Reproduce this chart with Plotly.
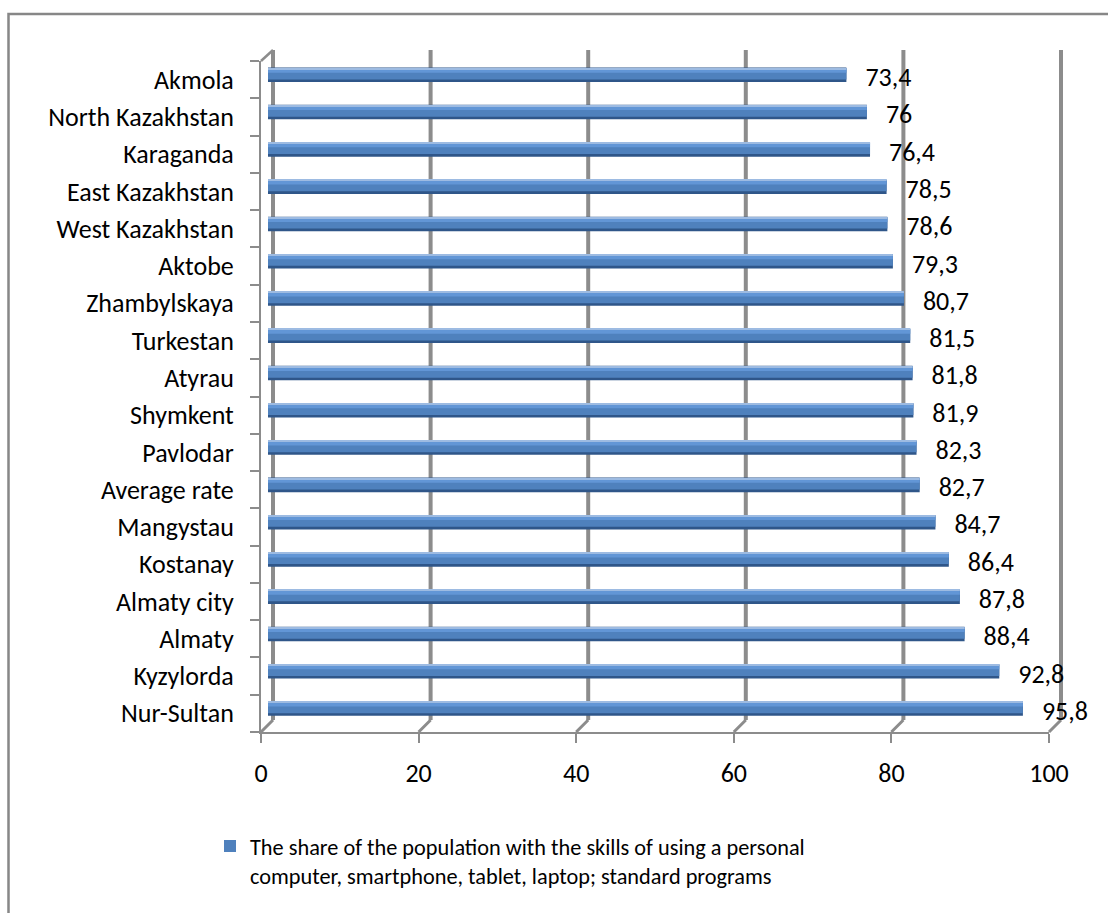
import plotly.graph_objects as go

# ---------------- data ----------------
regions = ["Nur-Sultan", "Kyzylorda", "Almaty", "Almaty city", "Kostanay", "Mangystau",
           "Average rate", "Pavlodar", "Shymkent", "Atyrau", "Turkestan", "Zhambylskaya",
           "Aktobe", "West Kazakhstan", "East Kazakhstan", "Karaganda", "North Kazakhstan",
           "Akmola"]
values = [95.8, 92.8, 88.4, 87.8, 86.4, 84.7, 82.7, 82.3, 81.9, 81.8, 81.5, 80.7,
          79.3, 78.6, 78.5, 76.4, 76, 73.4]
x_ticks = [0, 20, 40, 60, 80, 100]
series_name = ("The share of the population with the skills of using a personal<br>"
               "computer, smartphone, tablet, laptop; standard programs")
value_labels = [f"{v:g}".replace(".", ",") for v in values]

# ---------------- layout helpers ----------------
W, H = 1108, 913
def fx(p): return p / W
def fy(p): return 1 - p / H

FRONT = (261, 1049, 61, 732)   # x0, x1, ytop, ybottom (pixels)
BACK = (273, 1061, 50, 720)
BARS = (268, 1056, 56, 727)
LABELS = (287, 1075)           # value-label axis (bars shifted right)

FONT = "Carlito, Lato, sans-serif"
FS = 26
FS_LEG = 22.3
GRID = "#8c8c8c"
n = len(regions)

def xpos(box, v):
    return box[0] + (box[1] - box[0]) * v / 100.0

fig = go.Figure()

common = dict(x=values, y=regions, orientation="h", hoverinfo="skip",
              xaxis="x", yaxis="y")
fig.add_trace(go.Bar(**common, width=0.39, offset=-0.20,
                     marker=dict(color="#2F5689", line=dict(width=0)), showlegend=False))
fig.add_trace(go.Bar(**common, width=0.30, offset=-0.13, name=series_name,
                     marker=dict(color="#4F81BD", line=dict(width=0)), showlegend=True))
fig.add_trace(go.Bar(**common, width=0.12, offset=0.05,
                     marker=dict(color="#6296D6", line=dict(width=0)), showlegend=False))
fig.add_trace(go.Bar(**common, width=0.03, offset=0.15,
                     marker=dict(color="#9DBBE2", line=dict(width=0)), showlegend=False))

# value labels
fig.add_trace(go.Scatter(x=values, y=regions, mode="text", text=value_labels,
                         textposition="middle right", xaxis="x4", yaxis="y2",
                         textfont=dict(family=FONT, size=FS, color="black"),
                         cliponaxis=False, showlegend=False, hoverinfo="skip"))
# front axes carrier
fig.add_trace(go.Scatter(x=values, y=regions, mode="markers", marker=dict(opacity=0),
                         xaxis="x2", yaxis="y2", showlegend=False, hoverinfo="skip"))

shapes = []
# outer border (left & top)
shapes.append(dict(type="path", xref="paper", yref="paper",
                   path=f"M {fx(8.5)},{fy(913)} L {fx(8.5)},{fy(14)} L {fx(1108)},{fy(14)}",
                   line=dict(color="#878787", width=2.5), layer="below"))
# back wall vertical gridlines and floor connectors
for v in x_ticks:
    xb = xpos(BACK, v)
    xf = xpos(FRONT, v)
    shapes.append(dict(type="line", xref="paper", yref="paper",
                       x0=fx(xb), x1=fx(xb), y0=fy(BACK[3]), y1=fy(BACK[2]),
                       line=dict(color=GRID, width=4), layer="below"))
    shapes.append(dict(type="line", xref="paper", yref="paper",
                       x0=fx(xb), x1=fx(xf), y0=fy(BACK[3]), y1=fy(FRONT[3]),
                       line=dict(color=GRID, width=3), layer="below"))
# top-left connector
shapes.append(dict(type="line", xref="paper", yref="paper",
                   x0=fx(FRONT[0]), x1=fx(BACK[0]), y0=fy(FRONT[2]), y1=fy(BACK[2]),
                   line=dict(color=GRID, width=2.5), layer="below"))

fig.update_layout(
    template="none",
    width=W, height=H,
    margin=dict(l=0, r=0, t=0, b=0, pad=0, autoexpand=False),
    paper_bgcolor="white", plot_bgcolor="rgba(0,0,0,0)",
    barmode="overlay",
    font=dict(family=FONT, size=FS, color="black"),
    xaxis=dict(domain=[fx(BARS[0]), fx(BARS[1])], range=[0, 100], visible=False,
               anchor="y", fixedrange=True, automargin=False),
    yaxis=dict(domain=[fy(BARS[3]), fy(BARS[2])], type="category",
               categoryorder="array", categoryarray=regions, range=[-0.5, n - 0.5],
               visible=False, anchor="x", fixedrange=True, automargin=False),
    xaxis4=dict(domain=[fx(LABELS[0]), fx(LABELS[1])], range=[0, 100], visible=False,
                anchor="y2", fixedrange=True, automargin=False),
    xaxis2=dict(domain=[fx(FRONT[0]), fx(FRONT[1])], range=[0, 100], anchor="y2",
                tickvals=x_ticks, showline=True, linecolor=GRID, linewidth=2,
                ticks="outside", ticklen=9, tickwidth=2, tickcolor=GRID,
                showgrid=False, zeroline=False, ticklabelstandoff=8, automargin=False,
                tickfont=dict(family=FONT, size=FS, color="black"), fixedrange=True),
    yaxis2=dict(domain=[fy(FRONT[3]), fy(FRONT[2])], type="category",
                categoryorder="array", categoryarray=regions, range=[-0.5, n - 0.5],
                anchor="x2", tickson="boundaries", showline=True, linecolor=GRID,
                linewidth=2, ticks="outside", ticklen=9, tickwidth=2, tickcolor=GRID,
                showgrid=False, zeroline=False, ticklabelstandoff=20, automargin=False,
                tickfont=dict(family=FONT, size=FS, color="black"), fixedrange=True),
    legend=dict(x=fx(210), y=fy(825), xanchor="left", yanchor="top",
                font=dict(family=FONT, size=FS_LEG, color="black"), valign="top",
                bgcolor="rgba(0,0,0,0)", borderwidth=0,
                itemclick=False, itemdoubleclick=False),
    shapes=shapes,
)

fig.write_html("out.html", config={"displayModeBar": False},
               post_script="document.body.style.margin='0';")
